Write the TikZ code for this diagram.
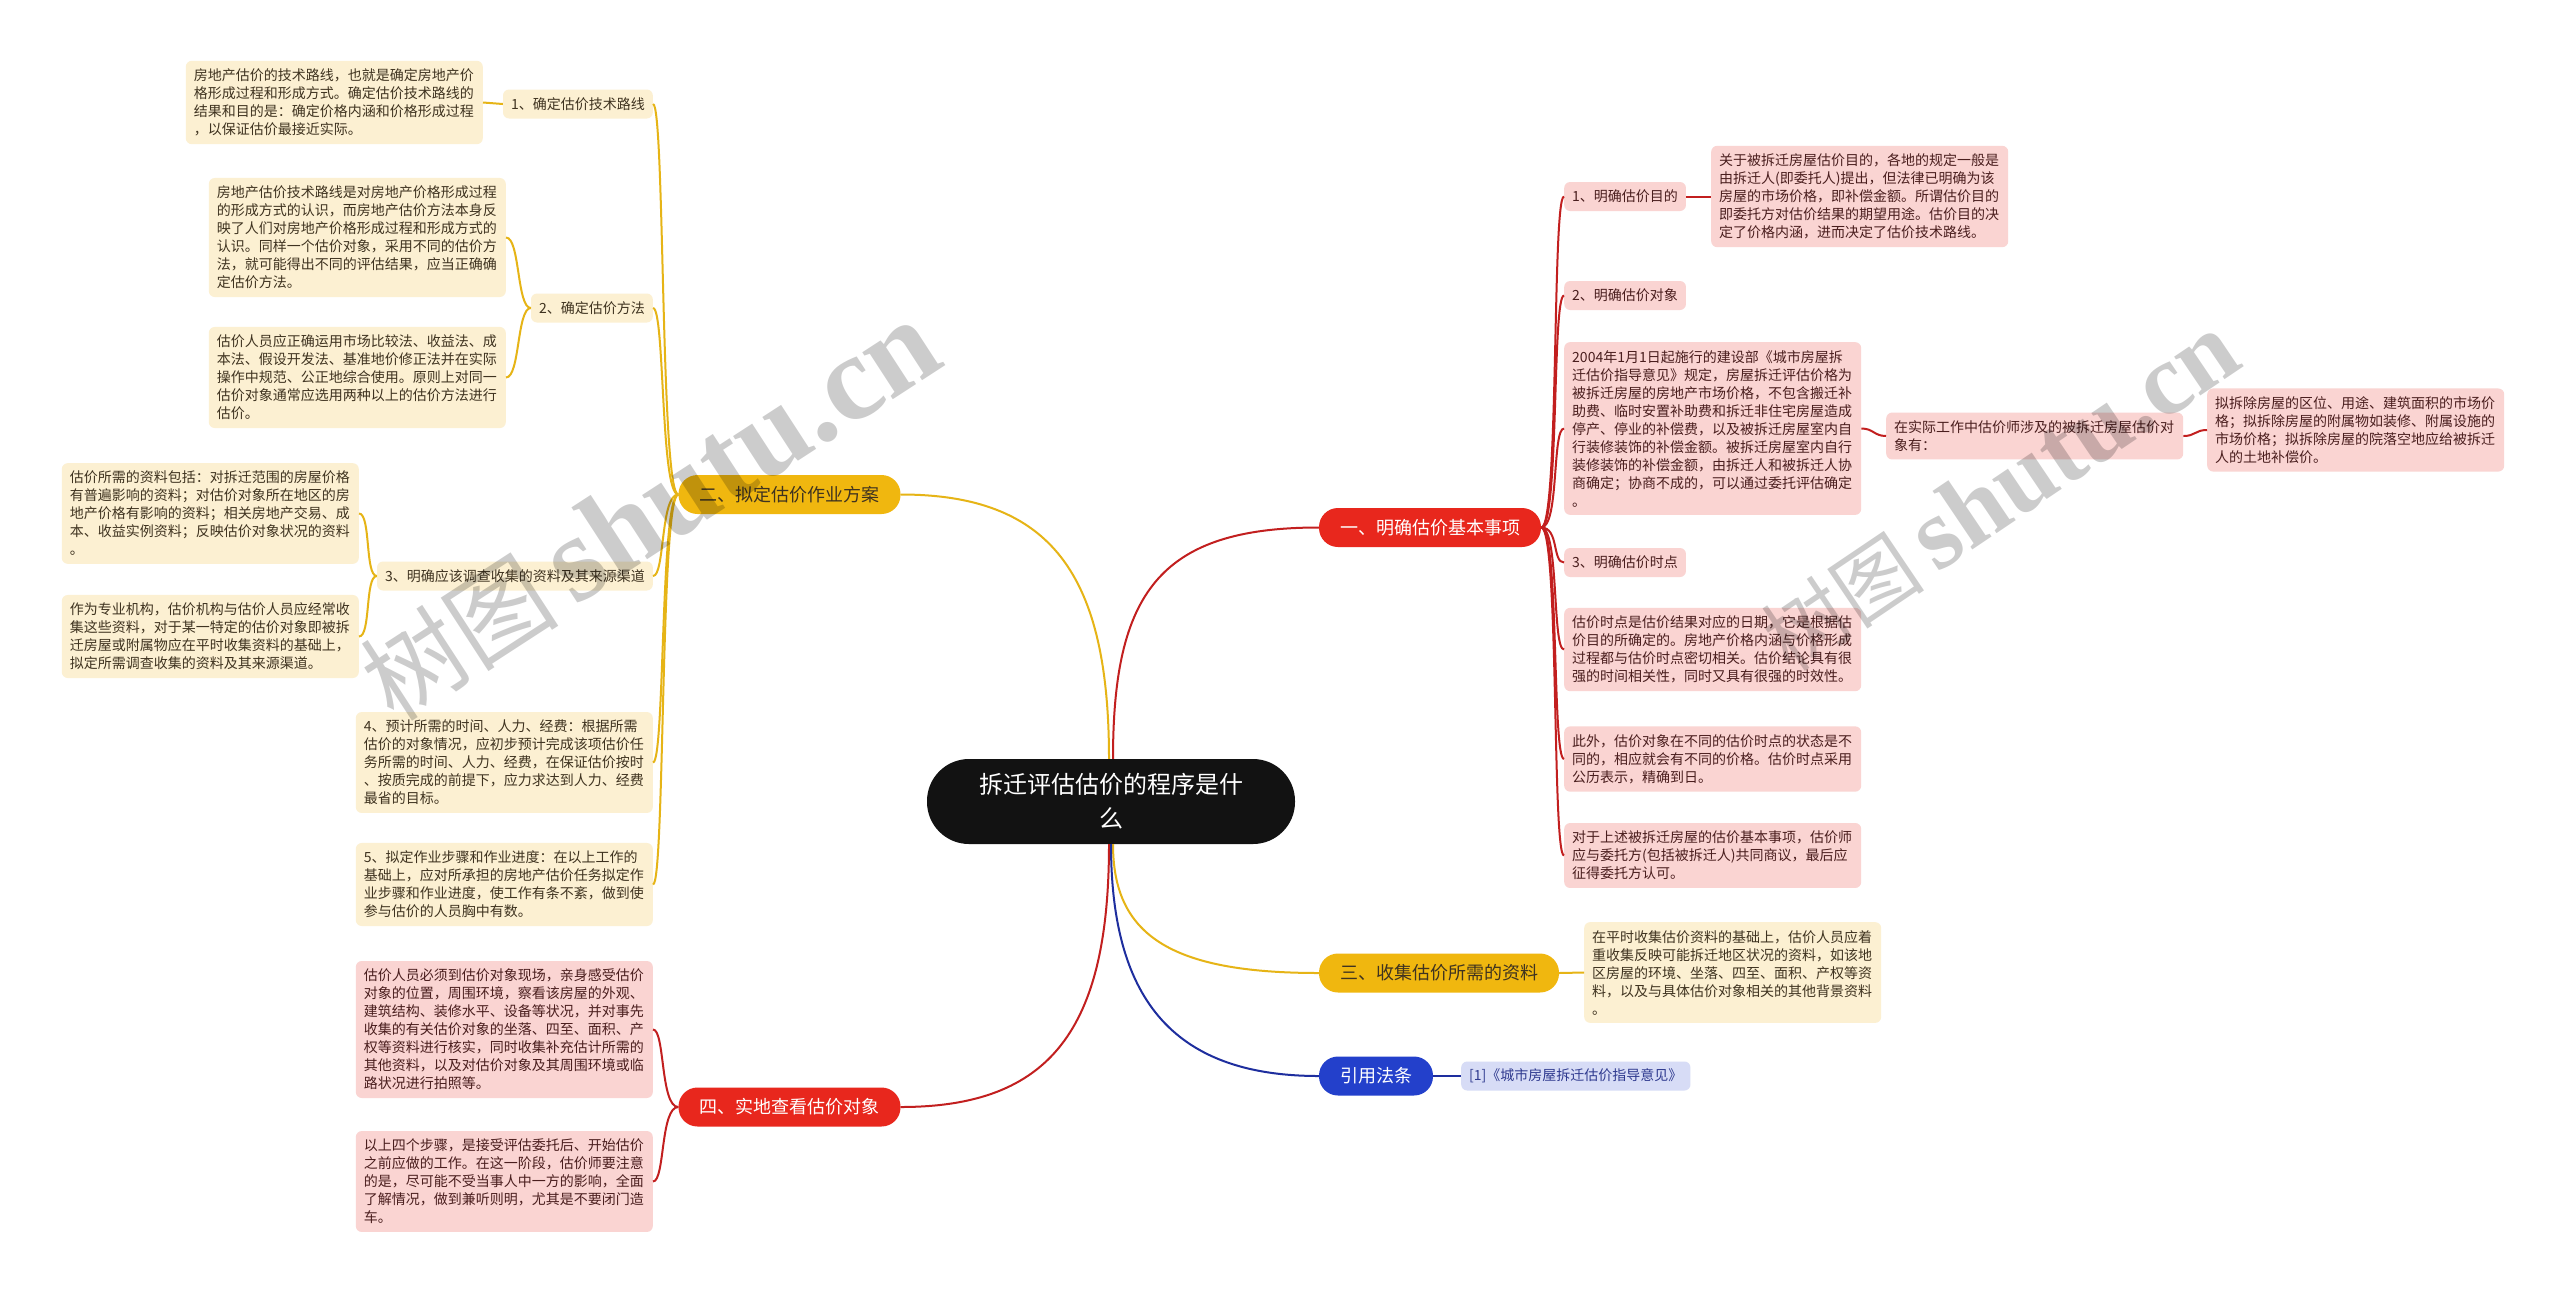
\documentclass[tikz,border=0pt]{standalone}
\usepackage{fontspec}
\newfontfamily\cjk{Noto Sans CJK SC}
\newfontfamily\cjkbold{Noto Sans CJK SC Bold}
\newfontfamily\wmserif{Liberation Serif}
\usetikzlibrary{calc}
\definecolor{ylinec}{HTML}{E6B416}
\definecolor{ypillc}{HTML}{F0B70F}
\definecolor{yfillc}{HTML}{FCF0D2}
\definecolor{ytextc}{HTML}{3F3320}
\definecolor{rlinec}{HTML}{C21F1F}
\definecolor{rpillc}{HTML}{E8271D}
\definecolor{rfillc}{HTML}{FAD4D2}
\definecolor{rtextc}{HTML}{4A1E1E}
\definecolor{blinec}{HTML}{1E2E9E}
\definecolor{bpillc}{HTML}{2340CB}
\definecolor{bfillc}{HTML}{D7DCF6}
\definecolor{btextc}{HTML}{2F3A8F}
\begin{document}
\begin{tikzpicture}[x=1pt,y=-1pt,
 txt/.style={font=\cjk\fontsize{14}{18}\selectfont},
 ybox/.style={txt, fill=yfillc, text=ytextc, rounded corners=6pt, inner xsep=8pt, inner ysep=8pt, text width=281pt, align=left},
 rbox/.style={ybox, fill=rfillc, text=rtextc},
 ylab/.style={txt, fill=yfillc, text=ytextc, rounded corners=6pt, inner xsep=8pt, inner ysep=4pt, minimum height=29pt},
 rlab/.style={ylab, fill=rfillc, text=rtextc},
 blab/.style={ylab, fill=bfillc, text=btextc},
 pillst/.style={font=\cjk\fontsize{18}{22}\selectfont, rounded corners=19pt, inner xsep=21pt, inner ysep=4pt, minimum height=39pt},
 ypill/.style={pillst, fill=ypillc, text=ytextc},
 rpill/.style={pillst, fill=rpillc, text=white},
 bpill/.style={pillst, fill=bpillc, text=white},
 rootst/.style={font=\cjk\fontsize{24}{34}\selectfont, fill=black!93, text=white, rounded corners=42pt, minimum width=368pt, minimum height=85pt, align=center},
 ycon/.style={draw=ylinec, line width=2pt},
 rcon/.style={draw=rlinec, line width=2pt},
 bcon/.style={draw=blinec, line width=2pt},
 wm/.style={opacity=0.2, text=black, inner sep=0pt}
]
\useasboundingbox[fill=white] (0,0) rectangle (2560,1294);

% root
\node[rootst] (c) at (1111,801.5) {拆迁评估估价的程序是什\\么};

% left: branch two
\node[ybox, anchor=east] (b1) at (483,102.5) {房地产估价的技术路线，也就是确定房地产价\\格形成过程和形成方式。确定估价技术路线的\\结果和目的是：确定价格内涵和价格形成过程\\，以保证估价最接近实际。};
\node[ylab, anchor=east] (l1) at (653,104) {1、确定估价技术路线};
\node[ybox, anchor=east] (bA) at (506,237.5) {房地产估价技术路线是对房地产价格形成过程\\的形成方式的认识，而房地产估价方法本身反\\映了人们对房地产价格形成过程和形成方式的\\认识。同样一个估价对象，采用不同的估价方\\法，就可能得出不同的评估结果，应当正确确\\定估价方法。};
\node[ylab, anchor=east] (l2) at (653,308) {2、确定估价方法};
\node[ybox, anchor=east] (bB) at (506,377.5) {估价人员应正确运用市场比较法、收益法、成\\本法、假设开发法、基准地价修正法并在实际\\操作中规范、公正地综合使用。原则上对同一\\估价对象通常应选用两种以上的估价方法进行\\估价。};
\node[ypill] (er) at (789.5,494.5) {二、拟定估价作业方案};
\node[ybox, anchor=east] (bC) at (359,513.5) {估价所需的资料包括：对拆迁范围的房屋价格\\有普遍影响的资料；对估价对象所在地区的房\\地产价格有影响的资料；相关房地产交易、成\\本、收益实例资料；反映估价对象状况的资料\\。};
\node[ylab, anchor=east] (l3) at (653,576) {3、明确应该调查收集的资料及其来源渠道};
\node[ybox, anchor=east] (bD) at (359,636.5) {作为专业机构，估价机构与估价人员应经常收\\集这些资料，对于某一特定的估价对象即被拆\\迁房屋或附属物应在平时收集资料的基础上，\\拟定所需调查收集的资料及其来源渠道。};
\node[ybox, anchor=east] (b4) at (653,762.5) {4、预计所需的时间、人力、经费：根据所需\\估价的对象情况，应初步预计完成该项估价任\\务所需的时间、人力、经费，在保证估价按时\\、按质完成的前提下，应力求达到人力、经费\\最省的目标。};
\node[ybox, anchor=east] (b5) at (653,884.5) {5、拟定作业步骤和作业进度：在以上工作的\\基础上，应对所承担的房地产估价任务拟定作\\业步骤和作业进度，使工作有条不紊，做到使\\参与估价的人员胸中有数。};

% left: branch four
\node[rbox, anchor=east] (bE) at (653,1029.5) {估价人员必须到估价对象现场，亲身感受估价\\对象的位置，周围环境，察看该房屋的外观、\\建筑结构、装修水平、设备等状况，并对事先\\收集的有关估价对象的坐落、四至、面积、产\\权等资料进行核实，同时收集补充估计所需的\\其他资料，以及对估价对象及其周围环境或临\\路状况进行拍照等。};
\node[rpill] (si) at (789.5,1107) {四、实地查看估价对象};
\node[rbox, anchor=east] (bF) at (653,1181.5) {以上四个步骤，是接受评估委托后、开始估价\\之前应做的工作。在这一阶段，估价师要注意\\的是，尽可能不受当事人中一方的影响，全面\\了解情况，做到兼听则明，尤其是不要闭门造\\车。};

% right: branch one
\node[rpill] (yi) at (1430,527.5) {一、明确估价基本事项};
\node[rlab, anchor=west] (r1) at (1564,196.5) {1、明确估价目的};
\node[rbox, anchor=west] (br1) at (1711,196.5) {关于被拆迁房屋估价目的，各地的规定一般是\\由拆迁人(即委托人)提出，但法律已明确为该\\房屋的市场价格，即补偿金额。所谓估价目的\\即委托方对估价结果的期望用途。估价目的决\\定了价格内涵，进而决定了估价技术路线。};
\node[rlab, anchor=west] (r2) at (1564,295.5) {2、明确估价对象};
\node[rbox, anchor=west] (bG) at (1564,428.5) {2004年1月1日起施行的建设部《城市房屋拆\\迁估价指导意见》规定，房屋拆迁评估价格为\\被拆迁房屋的房地产市场价格，不包含搬迁补\\助费、临时安置补助费和拆迁非住宅房屋造成\\停产、停业的补偿费，以及被拆迁房屋室内自\\行装修装饰的补偿金额。被拆迁房屋室内自行\\装修装饰的补偿金额，由拆迁人和被拆迁人协\\商确定；协商不成的，可以通过委托评估确定\\。};
\node[rbox, anchor=west] (sj) at (1886,436) {在实际工作中估价师涉及的被拆迁房屋估价对\\象有：};
\node[rbox, anchor=west] (bK) at (2207,430) {拟拆除房屋的区位、用途、建筑面积的市场价\\格；拟拆除房屋的附属物如装修、附属设施的\\市场价格；拟拆除房屋的院落空地应给被拆迁\\人的土地补偿价。};
\node[rlab, anchor=west] (r3) at (1564,562.5) {3、明确估价时点};
\node[rbox, anchor=west] (bH) at (1564,649.5) {估价时点是估价结果对应的日期，它是根据估\\价目的所确定的。房地产价格内涵与价格形成\\过程都与估价时点密切相关。估价结论具有很\\强的时间相关性，同时又具有很强的时效性。};
\node[rbox, anchor=west] (bI) at (1564,759) {此外，估价对象在不同的估价时点的状态是不\\同的，相应就会有不同的价格。估价时点采用\\公历表示，精确到日。};
\node[rbox, anchor=west] (bJ) at (1564,855.5) {对于上述被拆迁房屋的估价基本事项，估价师\\应与委托方(包括被拆迁人)共同商议，最后应\\征得委托方认可。};

% right: branch three and citation
\node[ypill] (san) at (1439,973) {三、收集估价所需的资料};
\node[ybox, anchor=west] (bL) at (1584,972.5) {在平时收集估价资料的基础上，估价人员应着\\重收集反映可能拆迁地区状况的资料，如该地\\区房屋的环境、坐落、四至、面积、产权等资\\料，以及与具体估价对象相关的其他背景资料\\。};
\node[bpill] (yy) at (1376,1076) {引用法条};
\node[blab, anchor=west] (bM) at (1461,1076) {[1]《城市房屋拆迁估价指导意见》};

% connectors from root
\draw[rcon] ([xshift=2pt]c.north) .. controls +(0,-165) and +(-160,0) .. (yi.west);
\draw[ycon] ([xshift=-2pt]c.north) .. controls +(0,-185) and +(150,0) .. (er.east);
\draw[rcon] ([xshift=-2pt]c.south) .. controls +(0,185) and +(150,0) .. (si.east);
\draw[ycon] ([xshift=2pt]c.south) .. controls +(0,90) and +(-150,0) .. (san.west);
\draw[bcon] (c.south) .. controls +(0,150) and +(-150,0) .. (yy.west);

% branch two
\foreach \nd in {l1,l2,l3,b4,b5}
  \draw[ycon] (er.west) .. controls +(-18,0) and +(12,0) .. (\nd.east);
\draw[ycon] (l1.west) .. controls +(-10,0) and +(10,0) .. (b1.east);
\foreach \nd in {bA,bB}
  \draw[ycon] (l2.west) .. controls +(-14,0) and +(14,0) .. (\nd.east);
\foreach \nd in {bC,bD}
  \draw[ycon] (l3.west) .. controls +(-12,0) and +(12,0) .. (\nd.east);

% branch four
\foreach \nd in {bE,bF}
  \draw[rcon] (si.west) .. controls +(-18,0) and +(12,0) .. (\nd.east);

% branch one
\foreach \nd in {r1,r2,bG,r3,bH,bI,bJ}
  \draw[rcon] (yi.east) .. controls +(18,0) and +(-12,0) .. (\nd.west);
\draw[rcon] (r1.east) -- (br1.west);
\draw[rcon] (bG.east) .. controls +(12,0) and +(-12,0) .. (sj.west);
\draw[rcon] (sj.east) .. controls +(12,0) and +(-12,0) .. (bK.west);

% branch three, citation
\draw[ycon] (san.east) .. controls +(12,0) and +(-12,0) .. (bL.west);
\draw[bcon] (yy.east) -- (bM.west);

% watermarks
\node[wm, rotate=33] (wm1) at (650,512) {{\cjk\fontsize{100}{100}\selectfont 树图}\hspace{16pt}{\wmserif\bfseries\fontsize{122}{122}\selectfont shutu.cn}};
\node[wm, rotate=34] (wm2) at (2000,493) {{\cjk\fontsize{82}{82}\selectfont 树图}\hspace{14pt}{\wmserif\bfseries\fontsize{102}{102}\selectfont shutu.cn}};
\end{tikzpicture}
\end{document}
